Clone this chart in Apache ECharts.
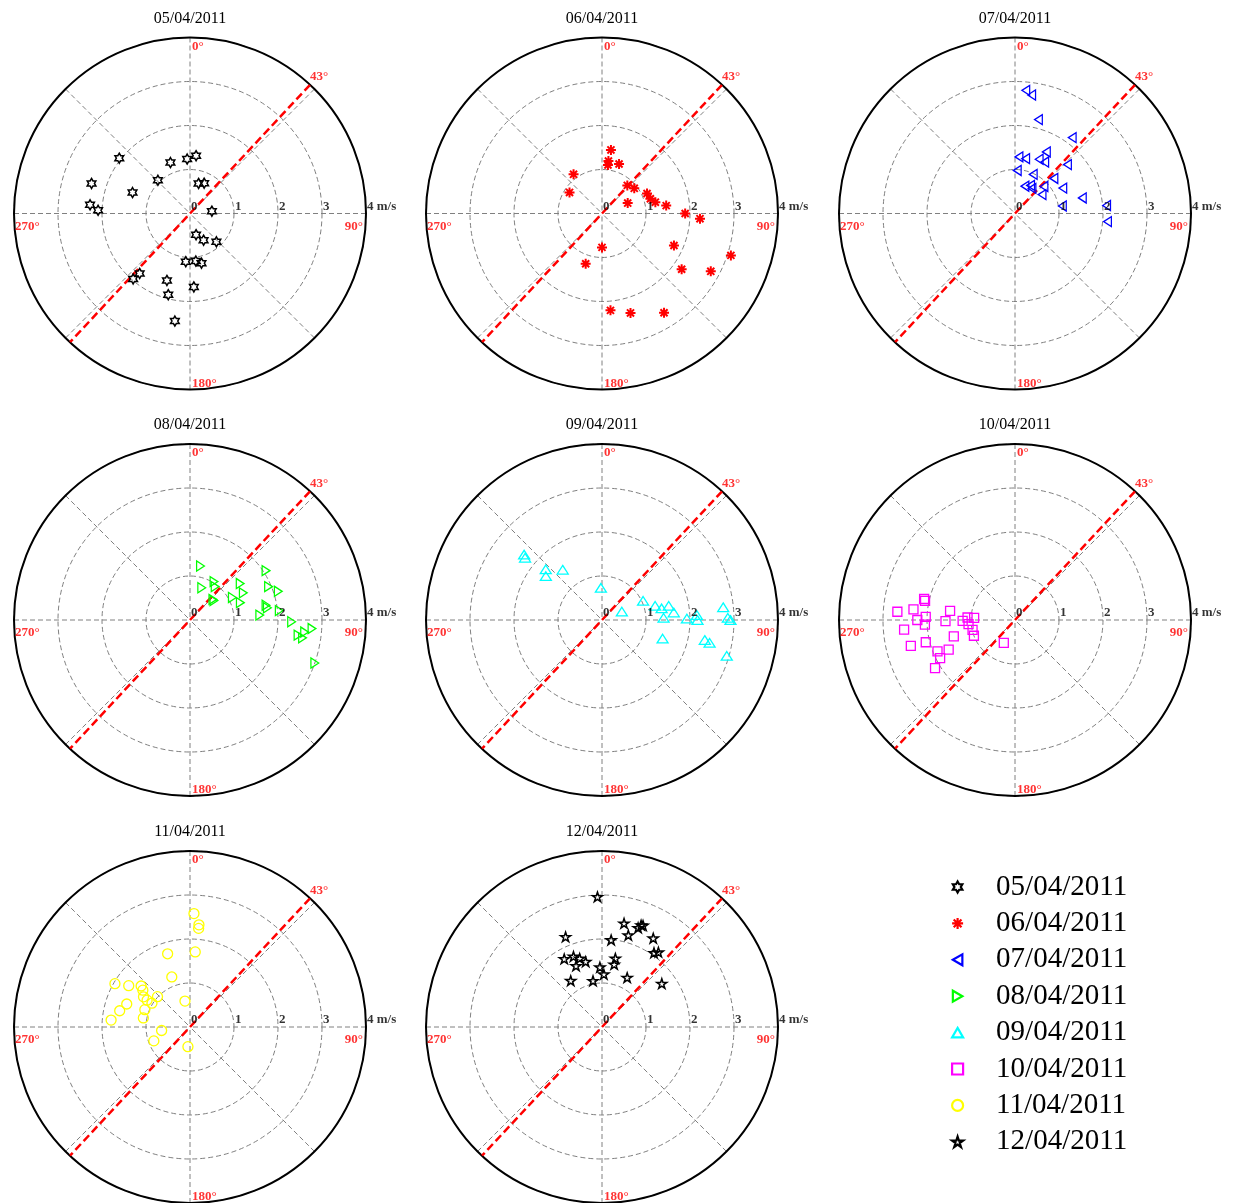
<!DOCTYPE html>
<html><head><meta charset="utf-8">
<script src="https://cdn.jsdelivr.net/npm/echarts@6/dist/echarts.min.js"></script>
<style>html,body{margin:0;padding:0;background:#fff}#c{width:1234px;height:1203px}</style>
</head><body><div id="c"></div>
<script>
// ---- data (speed in m/s, direction in degrees clockwise from north) ----
const dates = ['05/04/2011','06/04/2011','07/04/2011','08/04/2011','09/04/2011','10/04/2011','11/04/2011','12/04/2011'];

const s0504 = [2.04,2.34,2.28,2.09,1.39,1.05,1.24,1.24,1.32,0.71,0.76,0.50,0.50,0.68,0.88,1.10,1.09,1.16,1.78,1.97,1.61,1.67,1.91,2.47];
const d0504 = [308,287,275,272,290,316,339,357,6,16,25,84,164,153,137,185,173,167,220,221,199,177,195,188];

const s0604 = [1.46,1.20,1.11,1.19,1.10,0.88,0.86,0.93,0.63,1.12,1.15,1.24,1.47,1.89,2.23,0.77,1.20,1.79,2.21,2.80,3.08,2.21,2.35,2.66];
const d0604 = [8,7,7,19,324,303,42,52,68,66,73,78,83,90,93,180,198,114,125,118,108,175,164,148];

const s0704 = [2.81,2.72,2.20,2.16,1.29,1.27,1.35,1.57,1.35,1.63,0.98,0.98,1.19,0.66,0.73,0.69,0.90,0.75,1.23,1.57,1.09,2.09,2.11];
const d0704 = [5,8,14,37,4,11,24,27,30,47,3,25,48,20,29,34,47,55,62,77,81,85,95];

const s0804 = [1.25,0.78,1.03,0.95,0.70,0.70,1.41,1.36,1.09,1.21,2.06,1.94,2.11,1.76,1.78,1.59,2.04,2.31,2.48,2.62,2.78,2.59,3.00];
const d0804 = [11,20,32,37,48,51,54,63,62,71,57,67,72,79,81,86,84,91,98,96,94,99,109];

const s0904 = [2.31,2.25,1.72,1.62,1.45,0.73,0.49,1.03,1.25,1.38,1.55,1.64,1.40,1.93,2.16,2.17,1.44,2.38,2.50,2.77,2.86,2.92,2.95];
const d0904 = [310,309,312,308,322,358,67,65,75,79,78,84,88,89,87,90,107,101,102,84,89,90,106];

const s1004 = [2.12,2.09,2.68,2.32,2.22,2.03,2.05,2.53,1.49,1.58,1.19,1.08,0.93,1.06,0.99,1.00,1.44,2.44,2.09,1.90,1.65,1.91,2.12,0.58];
const d1004 = [283,282,274,276,270,272,267,265,278,269,269,273,273,265,257,249,255,256,256,248,246,243,239,206];

const s1104 = [2.58,2.33,2.25,1.71,1.74,1.21,1.97,1.68,1.45,1.36,1.26,1.15,1.02,1.01,1.53,1.64,1.80,1.10,1.08,0.60,0.65,0.88,0.45];
const d1104 = [2,5,5,4,343,340,300,304,310,308,303,302,302,313,290,283,275,291,281,349,263,249,186];

const s1204 = [2.96,2.41,2.40,2.48,2.49,2.17,1.99,2.33,2.21,1.77,1.73,1.64,1.53,1.51,1.59,1.45,1.36,1.20,2.06,2.13,1.27,1.07,1.26,1.68];
const d1204 = [358,12,20,21,22,16,6,30,338,331,338,342,346,337,11,11,358,2,35,37,326,349,27,54];

const radiusTicks = [0,1,2,3,4];
const radiusTickLabels = ['0','1','2','3','4 m/s'];
const angleTickValues = [0,43,90,180,270];
const angleTickLabels = ['0°','43°','90°','180°','270°'];
const refAngle = 43;
const maxSpeed = 4;

// ---- styling / layout ----
const speeds = [s0504,s0604,s0704,s0804,s0904,s1004,s1104,s1204];
const dirs = [d0504,d0604,d0704,d0804,d0904,d1004,d1104,d1204];
const colX = [190, 602, 1015];
const rowY = [213.5, 620, 1027];
const R = 176;
const FONT = '"Liberation Serif","Times New Roman",serif';

const P_HEX = 'path://M10,0L12.887,5L18.66,5L15.77,10L18.66,15L12.887,15L10,20L7.113,15L1.34,15L4.23,10L1.34,5L7.113,5Z';
const P_AST = 'path://M10,0L10,20M0,10L20,10M2.93,2.93L17.07,17.07M17.07,2.93L2.93,17.07';
const P_LEFT = 'path://M0,10L17.3,0L17.3,20Z';
const P_RIGHT = 'path://M17.3,10L0,0L0,20Z';
const P_UP = 'path://M10,0L20,17.3L0,17.3Z';
const P_PENT = 'path://M10,0L12.245,6.91L19.51,6.91L13.63,11.18L15.88,18.09L10,13.82L4.12,18.09L6.37,11.18L0.49,6.91L7.755,6.91Z';
const markers = [
  {symbol: P_HEX, size: 10, color: '#000000', bw: 1.5, lsize: 11},
  {symbol: P_AST, size: 10, color: '#ff0000', bw: 2, lsize: 11},
  {symbol: P_LEFT, size: [9,10], color: '#0000ff', bw: 1.3, lsize: 11},
  {symbol: P_RIGHT, size: [9,10], color: '#00ff00', bw: 1.3, lsize: 11},
  {symbol: P_UP, size: [11,10], color: '#00ffff', bw: 1.3, lsize: 11},
  {symbol: 'rect', size: 9, color: '#ff00ff', bw: 1.3, lsize: 10},
  {symbol: 'circle', size: 10, color: '#ffff00', bw: 1.3, lsize: 11},
  {symbol: P_PENT, size: 10, color: '#000000', bw: 1.5, lsize: 11}
];
const angleLabelStyle = [
  {align: 'left', offset: [2, 9]},
  {align: 'left', offset: [0, -8]},
  {align: 'right', offset: [-3, 13]},
  {align: 'left', offset: [2, -6]},
  {align: 'left', offset: [1, 13]}
];

const polar = [], angleAxis = [], radiusAxis = [], title = [], series = [];
dates.forEach((d, i) => {
  const cx = colX[i % 3], cy = rowY[Math.floor(i / 3)];
  polar.push({center: [cx, cy], radius: R});
  angleAxis.push({
    polarIndex: i, type: 'value', min: 0, max: 360, interval: 45, startAngle: 90, clockwise: true,
    axisLine: {show: true, lineStyle: {color: '#000', width: 2}},
    axisTick: {show: false}, axisLabel: {show: false},
    splitLine: {show: true, lineStyle: {color: '#808080', width: 1, type: [5, 3]}}
  });
  radiusAxis.push({
    polarIndex: i, type: 'value', min: 0, max: maxSpeed, interval: 1,
    axisLine: {show: false}, axisTick: {show: false}, axisLabel: {show: false},
    splitLine: {show: true, lineStyle: {color: '#808080', width: 1, type: [5, 3]}}
  });
  title.push({
    text: d, left: cx, top: cy - 195, textAlign: 'center', textVerticalAlign: 'middle', padding: 0,
    textStyle: {fontSize: 16, fontWeight: 'normal', fontFamily: FONT, color: '#000'}
  });
  const m = markers[i];
  series.push({
    name: d, type: 'scatter', coordinateSystem: 'polar', polarIndex: i, clip: false,
    symbol: m.symbol, symbolSize: m.size, symbolKeepAspect: true,
    itemStyle: {color: 'transparent', borderColor: m.color, borderWidth: m.bw, opacity: 1},
    data: speeds[i].map((s, k) => [s, dirs[i][k]]), z: 5
  });
  series.push({
    type: 'line', coordinateSystem: 'polar', polarIndex: i, clip: false, symbol: 'none', silent: true,
    lineStyle: {color: '#ff0000', width: 2.5, type: [8, 4]},
    data: [[maxSpeed, refAngle], [maxSpeed, refAngle + 180]], z: 4
  });
  series.push({
    type: 'scatter', coordinateSystem: 'polar', polarIndex: i, clip: false, silent: true,
    symbolSize: 1, itemStyle: {color: 'transparent'},
    label: {show: true, position: 'inside', verticalAlign: 'middle', color: '#ff0000', fontWeight: 'bold', fontSize: 13, fontFamily: FONT},
    data: angleTickValues.map((a, k) => ({value: [maxSpeed, a], label: Object.assign({formatter: angleTickLabels[k]}, angleLabelStyle[k])})),
    z: 6
  });
  series.push({
    type: 'scatter', coordinateSystem: 'polar', polarIndex: i, clip: false, silent: true,
    symbolSize: 1, itemStyle: {color: 'transparent'},
    label: {show: true, position: 'inside', align: 'left', verticalAlign: 'middle', offset: [1, -7], color: '#000', fontWeight: 'bold', fontSize: 13, fontFamily: FONT},
    data: radiusTicks.map((r, k) => ({value: [r, 90], label: {formatter: radiusTickLabels[k]}})),
    z: 6
  });
});

const chart = echarts.init(document.getElementById('c'), null, {renderer: 'canvas'});
chart.setOption({
  backgroundColor: '#fff',
  animation: false,
  title, polar, angleAxis, radiusAxis, series,
  legend: {
    orient: 'vertical', left: 951, top: 872.5, padding: 0, itemGap: 7.4,
    itemWidth: 11, itemHeight: 11, selectedMode: false,
    data: dates.map((d, i) => ({name: d, icon: markers[i].symbol,
      itemStyle: {color: 'transparent', borderColor: markers[i].color, borderWidth: 2.2}})),
    formatter: name => '{g|}' + name,
    textStyle: {fontSize: 29, fontFamily: FONT, color: '#000', rich: {g: {width: 28}}}
  }
});
</script></body></html>
